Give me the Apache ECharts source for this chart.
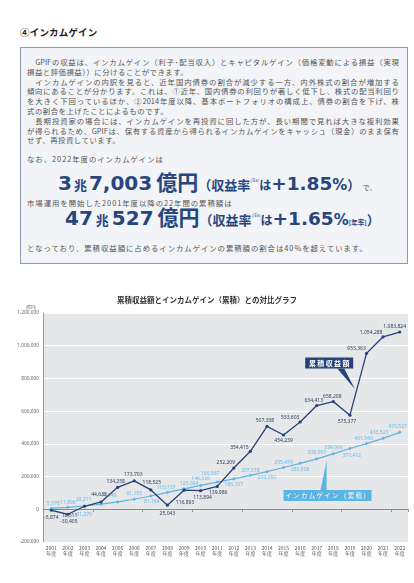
<!DOCTYPE html>
<html><head><meta charset="utf-8">
<script src="https://cdn.jsdelivr.net/npm/echarts/dist/echarts.min.js"></script>
<style>
body{margin:0;width:414px;height:583px;position:relative;overflow:hidden;background:#fff;font-family:"Noto Sans CJK JP","Noto Sans",sans-serif;}
.h{position:absolute;left:20px;top:25px;font-size:9.5px;font-weight:700;color:#222;letter-spacing:0.2px;line-height:14px;}
.box{position:absolute;left:20px;top:47px;width:386px;height:215px;border:1px solid #8c9cb3;background:#f2f4f7;}
.p{position:absolute;left:27px;width:372px;top:57px;font-size:7.4px;line-height:9.8px;color:#555;}
.p div{white-space:nowrap;}
.p .j{text-align:justify;text-align-last:justify;white-space:normal;}
.p .l{letter-spacing:0.5px;}
.s{position:absolute;left:27px;font-size:7.4px;line-height:10px;color:#555;letter-spacing:0.95px;white-space:nowrap;}
.big{position:absolute;white-space:nowrap;color:#27467f;font-weight:700;line-height:26px;}
.num{font-family:"DejaVu Sans",sans-serif;font-size:20px;font-weight:700;}
.jp{font-family:"Noto Sans CJK JP",sans-serif;font-weight:700;}
.sup{font-size:4px;position:relative;top:-8px;font-weight:400;}
#chart{position:absolute;left:0;top:270px;width:414px;height:313px;}
</style></head>
<body>
<div class="h">④インカムゲイン</div>
<div class="box"></div>
<div class="p">
<div class="j">　GPIFの収益は、インカムゲイン（利子･配当収入）とキャピタルゲイン（価格変動による損益（実現</div>
<div class="l">損益と評価損益））に分けることができます。</div>
<div class="j">　インカムゲインの内訳を見ると、近年国内債券の割合が減少する一方、内外株式の割合が増加する</div>
<div class="j">傾向にあることが分かります。これは、①近年、国内債券の利回りが著しく低下し、株式の配当利回り</div>
<div class="j">を大きく下回っているほか、②2014年度以降、基本ポートフォリオの構成上、債券の割合を下げ、株</div>
<div class="l">式の割合を上げたことによるものです。</div>
<div class="j">　長期投資家の場合には、インカムゲインを再投資に回した方が、長い期間で見れば大きな複利効果</div>
<div class="j">が得られるため、GPIFは、保有する資産から得られるインカムゲインをキャッシュ（現金）のまま保有</div>
<div class="l">せず、再投資しています。</div>
</div>
<div class="s" style="top:154px">なお、2022年度のインカムゲインは</div>
<div class="big" style="left:58px;top:168px"><span class="num">3</span><span class="jp" style="font-size:13px;margin:0 2px">兆</span><span class="num">7,003</span><span class="jp" style="font-size:21px;margin-left:4px">億円</span><span class="jp" style="font-size:13px">（収益率</span><span class="sup">(注6)</span><span class="jp" style="font-size:12px">は</span><span class="num" style="font-size:18.5px">+1.85</span><span class="num" style="font-size:15px">%</span><span class="jp" style="font-size:13px">）</span><span style="font-size:7.4px;color:#555;font-weight:400;margin-left:2px">で、</span></div>
<div class="s" style="top:198px">市場運用を開始した2001年度以降の22年間の累積額は</div>
<div class="big" style="left:65px;top:203px"><span class="num">47</span><span class="jp" style="font-size:13px;margin:0 3px">兆</span><span class="num">527</span><span class="jp" style="font-size:21px;margin-left:4px">億円</span><span class="jp" style="font-size:13px">（収益率</span><span class="sup">(注6)</span><span class="jp" style="font-size:12px">は</span><span class="num" style="font-size:18.5px">+1.65</span><span class="num" style="font-size:15px">%</span><span class="jp" style="font-size:6.5px">[年率]</span><span class="jp" style="font-size:13px">）</span></div>
<div class="s" style="top:243px">となっており、累積収益額に占めるインカムゲインの累積額の割合は40%を超えています。</div>
<div id="chart"></div>
<script>
const years = ['2001','2002','2003','2004','2005','2006','2007','2008','2009','2010','2011','2012','2013','2014','2015','2016','2017','2018','2019','2020','2021','2022'];
const cumulativeReturn = [-5874, -30405, 18511, 44638, 134258, 173703, 118525, 25043, 116893, 113894, 139986, 252209, 354415, 507338, 454239, 533603, 634413, 658208, 575377, 953363, 1054288, 1083824];
const incomeGain = [5378, 11896, 20211, 31270, 44749, 61155, 81164, 103157, 125094, 146026, 166367, 186107, 207518, 230050, 255474, 280808, 308597, 339006, 371412, 401540, 433523, 470527];
const yMin = -200000, yMax = 1200000, yStep = 200000;
const seriesNames = ['累積収益額', 'インカムゲイン（累積）'];

// label placement (style only)
const cumLabelOffset = [[0,7],[1,7],[-15,9],[-2,-7],[-2,-6],[-1,-6],[1,-7],[0,8],[1,12],[2,7],[1,6],[-8,-5],[-11,-4],[-2,-6],[0,6],[-10,-4],[-3,-5],[-1,-5],[-3,6],[-10,-5],[-12,-4],[-5,-5]];
const incLabelOffset = [[2,-5],[0,-5],[-1,-6],[-17,10],[-9,-6],[0,-6],[1,6],[-1,-5],[5,-5],[0,-7],[-7,-8],[0,6],[0,-5],[0,6],[0,-5],[0,6],[0,-6],[0,-6],[2,7],[-3,-5],[-4,-6],[-2,-6]];

const DARK = '#26427b', LIGHT = '#5cb4e4';
const fmt = v => v.toLocaleString('en-US');

function mk(values, offsets, color) {
  return values.map((v, i) => ({
    value: v,
    label: { show: true, position: 'inside', offset: offsets[i], formatter: p => fmt(p.value), color: color, fontSize: 5, fontFamily: 'Noto Sans' }
  }));
}

const chart = echarts.init(document.getElementById('chart'), null, {renderer: 'canvas'});
chart.setOption({
  animation: false,
  title: { text: '累積収益額とインカムゲイン（累積）との対比グラフ', left: 'center', top: 21,
    textStyle: { fontSize: 7.5, fontWeight: 'bold', color: '#333', fontFamily: 'Noto Sans CJK JP' } },
  grid: { left: 43, right: 6, top: 43, bottom: 41, show: true, backgroundColor: '#e6e7e9', borderWidth: 0 },
  xAxis: [{
    type: 'category', data: years, position: 'bottom',
    axisLine: { show: false, onZero: false }, axisTick: { show: false },
    axisLabel: { formatter: v => v + '\n年度', fontSize: 5, lineHeight: 5.5, color: '#555', margin: 3, fontFamily: 'Noto Sans CJK JP' }
  }, {
    type: 'category', data: years, position: 'bottom',
    axisLine: { show: true, onZero: true, lineStyle: { color: '#8a8a8a', width: 1 } },
    axisTick: { show: true, length: 2.5, lineStyle: { color: '#8a8a8a' } },
    axisLabel: { show: false }
  }],
  yAxis: {
    type: 'value', min: yMin, max: yMax, interval: yStep,
    axisLine: { show: true, lineStyle: { color: '#9a9a9a', width: 1 } },
    axisTick: { show: false },
    splitLine: { lineStyle: { color: '#ffffff', width: 1 } },
    axisLabel: { formatter: v => fmt(v), fontSize: 4.8, color: '#666', margin: 4, fontFamily: 'Noto Sans' }
  },
  series: [{
    name: seriesNames[1], type: 'line', xAxisIndex: 0, data: mk(incomeGain, incLabelOffset, '#6dbbe6'),
    lineStyle: { color: LIGHT, width: 1.2 }, itemStyle: { color: LIGHT }, symbol: 'diamond', symbolSize: 3.5, z: 3
  }, {
    name: seriesNames[0], type: 'line', xAxisIndex: 0, data: mk(cumulativeReturn, cumLabelOffset, '#2f3d5a'),
    lineStyle: { color: DARK, width: 1.3 }, itemStyle: { color: DARK }, symbol: 'circle', symbolSize: 3.2, z: 4
  }]
});

// callouts anchored in data space
function px(idx, val) {
  const a = chart.convertToPixel({ xAxisIndex: 0 }, years[0]);
  const b = chart.convertToPixel({ xAxisIndex: 0 }, years[years.length - 1]);
  const x = a + (b - a) * idx / (years.length - 1);
  const y = chart.convertToPixel({ yAxisIndex: 0 }, val);
  return [x, y];
}
const dBox = px(16.75, 895000);   // centre of dark label box
const dTip = px(18.3, 735000);
const lBox = px(16.65, 85000);
const lTip = px(16.6, 300000);
const dw = 48, dh = 11, lw = 88, lh = 11;
chart.setOption({
  graphic: [
    { type: 'polygon', shape: { points: [[dBox[0] + 8, dBox[1] + dh / 2], [dBox[0] + 15, dBox[1] + dh / 2], dTip] }, style: { fill: DARK }, z: 10 },
    { type: 'rect', shape: { x: dBox[0] - dw / 2, y: dBox[1] - dh / 2, width: dw, height: dh }, style: { fill: DARK }, z: 10 },
    { type: 'text', x: dBox[0], y: dBox[1], style: { text: '累\u2009積\u2009収\u2009益\u2009額', fill: '#fff', fontSize: 7, fontWeight: 'bold', align: 'center', verticalAlign: 'middle', fontFamily: 'Noto Sans CJK JP' }, z: 11 },
    { type: 'polygon', shape: { points: [[lBox[0] - 7, lBox[1] - lh / 2], [lBox[0] - 1, lBox[1] - lh / 2], lTip] }, style: { fill: LIGHT }, z: 10 },
    { type: 'rect', shape: { x: lBox[0] - lw / 2, y: lBox[1] - lh / 2, width: lw, height: lh }, style: { fill: LIGHT }, z: 10 },
    { type: 'text', x: lBox[0], y: lBox[1], style: { text: 'イ\u2009ン\u2009カ\u2009ム\u2009ゲ\u2009イ\u2009ン\u2009（\u2009累\u2009積\u2009）', fill: '#fff', fontSize: 6.5, align: 'center', verticalAlign: 'middle', fontFamily: 'Noto Sans CJK JP' }, z: 11 },
    { type: 'text', x: 31, y: 37, style: { text: '(億円)', fill: '#666', fontSize: 4, align: 'center', verticalAlign: 'middle', fontFamily: 'Noto Sans CJK JP' } }
  ]
});
</script>
</body></html>
